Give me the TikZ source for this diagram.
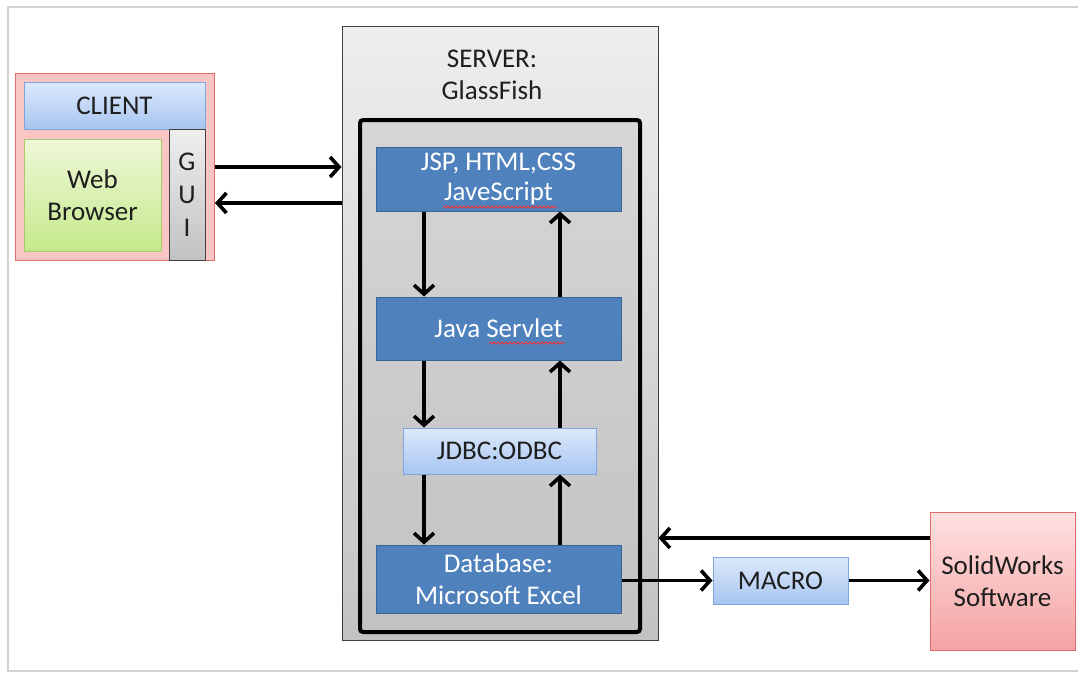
\documentclass[tikz,border=0pt]{standalone}
\usepackage{fontspec}
\setmainfont{Carlito}
\usetikzlibrary{arrows.meta,positioning,decorations.pathmorphing}

\definecolor{txtgray}{HTML}{1E1E1E}
\definecolor{boxblue}{HTML}{4F81BD}
\definecolor{blueline}{HTML}{3A6496}
\definecolor{lightA}{HTML}{DDE9FB}
\definecolor{lightB}{HTML}{A7C5F0}
\definecolor{lightline}{HTML}{7FA6DC}
\definecolor{greenA}{HTML}{EEF8D8}
\definecolor{greenB}{HTML}{C6E98C}
\definecolor{greenline}{HTML}{A9C96A}
\definecolor{pinkfill}{HTML}{F9C5C5}
\definecolor{pinkline}{HTML}{E06C6C}
\definecolor{pinkA}{HTML}{FFE1E1}
\definecolor{pinkB}{HTML}{F4A3A3}
\definecolor{grayA}{HTML}{EEEEEE}
\definecolor{grayB}{HTML}{C2C2C2}
\definecolor{framegray}{HTML}{D4D4D4}

\begin{document}
\begin{tikzpicture}[x=1pt,y=-1pt,
    every node/.style={font=\fontsize{27}{32}\selectfont, text=txtgray, align=center, inner sep=0pt},
    bluebox/.style={draw=blueline, fill=boxblue, text=white, line width=1pt},
    lightbox/.style={draw=lightline, top color=lightA, bottom color=lightB, line width=1pt},
    graybox/.style={draw=black!75, top color=grayA, bottom color=grayB, line width=1pt},
    arr/.style={line width=3.6pt, -{Straight Barb[length=9pt,width=20pt]}},
    squig/.style={red!80, line width=0.8pt, decorate, decoration={snake, amplitude=1pt, segment length=4pt}}]

    \useasboundingbox (0,0) rectangle (1078,677);
    \draw[framegray, line width=2pt] (8,7) rectangle (1100,671);

    % klient
    \node[draw=pinkline, fill=pinkfill, line width=1pt, minimum width=199pt, minimum height=187pt] (client) at (115,166.5) {};
    \node[lightbox, minimum width=181pt, minimum height=47pt] (clienthead) at (114.5,105.5) {CLIENT};
    \node[draw=greenline, top color=greenA, bottom color=greenB, line width=1pt, minimum width=137pt, minimum height=112pt] (browser) at (92.5,195) {Web\\Browser};
    \node[graybox, minimum width=36pt, minimum height=131pt, font=\fontsize{27}{33}\selectfont] (gui) at (187,194.5) {G\\U\\I};

    % server
    \node[graybox, minimum width=316pt, minimum height=613pt] (server) at (500,333.5) {};
    \node (title) at (492,75) {SERVER:\\GlassFish};
    \node[draw=black, line width=4pt, rounded corners=3pt, top color=grayA!90!black, bottom color=grayB, minimum width=280pt, minimum height=512pt] (inner) at (500,376) {};

    \node[bluebox, minimum width=245pt, minimum height=64pt, font=\fontsize{27}{30}\selectfont] (jsp) at (498.5,179) {JSP, HTML,CSS\\JaveScript};
    \node[bluebox, minimum width=245pt, minimum height=63pt] (servlet) at (498.5,328.5) {Java Servlet};
    \node[lightbox, minimum width=193pt, minimum height=46pt] (jdbc) at (499.5,451) {JDBC:ODBC};
    \node[bluebox, minimum width=245pt, minimum height=68pt] (db) at (498.5,579) {Database:\\Microsoft Excel};

    % vnejsi
    \node[lightbox, minimum width=135pt, minimum height=47pt] (macro) at (780.5,580.5) {MACRO};
    \node[draw=pinkline, top color=pinkA, bottom color=pinkB, line width=1pt, minimum width=145pt, minimum height=138pt] (solid) at (1002.5,581) {SolidWorks\\Software};

    % kontrola pravopisu
    \draw[squig] (443,207) -- (557,207);
    \draw[squig] (489,343) -- (565,343);

    \coordinate (dn) at (424,0);
    \coordinate (up) at (560,0);
    \coordinate (c1) at (0,167);
    \coordinate (c2) at (0,203);
    \coordinate (s1) at (0,538);

    \draw[arr] (client.east |- c1) -- (server.west |- c1);
    \draw[arr] (server.west |- c2) -- (client.east |- c2);

    \draw[arr] (jsp.south -| dn) -- (servlet.north -| dn);
    \draw[arr] (servlet.south -| dn) -- (jdbc.north -| dn);
    \draw[arr] (jdbc.south -| dn) -- (db.north -| dn);
    \draw[arr] (db.north -| up) -- (jdbc.south -| up);
    \draw[arr] (jdbc.north -| up) -- (servlet.south -| up);
    \draw[arr] (servlet.north -| up) -- (jsp.south -| up);

    \draw[arr] (db.east |- macro.west) -- (macro.west);
    \draw[arr] (macro.east) -- (solid.west |- macro.east);
    \draw[arr] (solid.west |- s1) -- (server.east |- s1);
\end{tikzpicture}
\end{document}
